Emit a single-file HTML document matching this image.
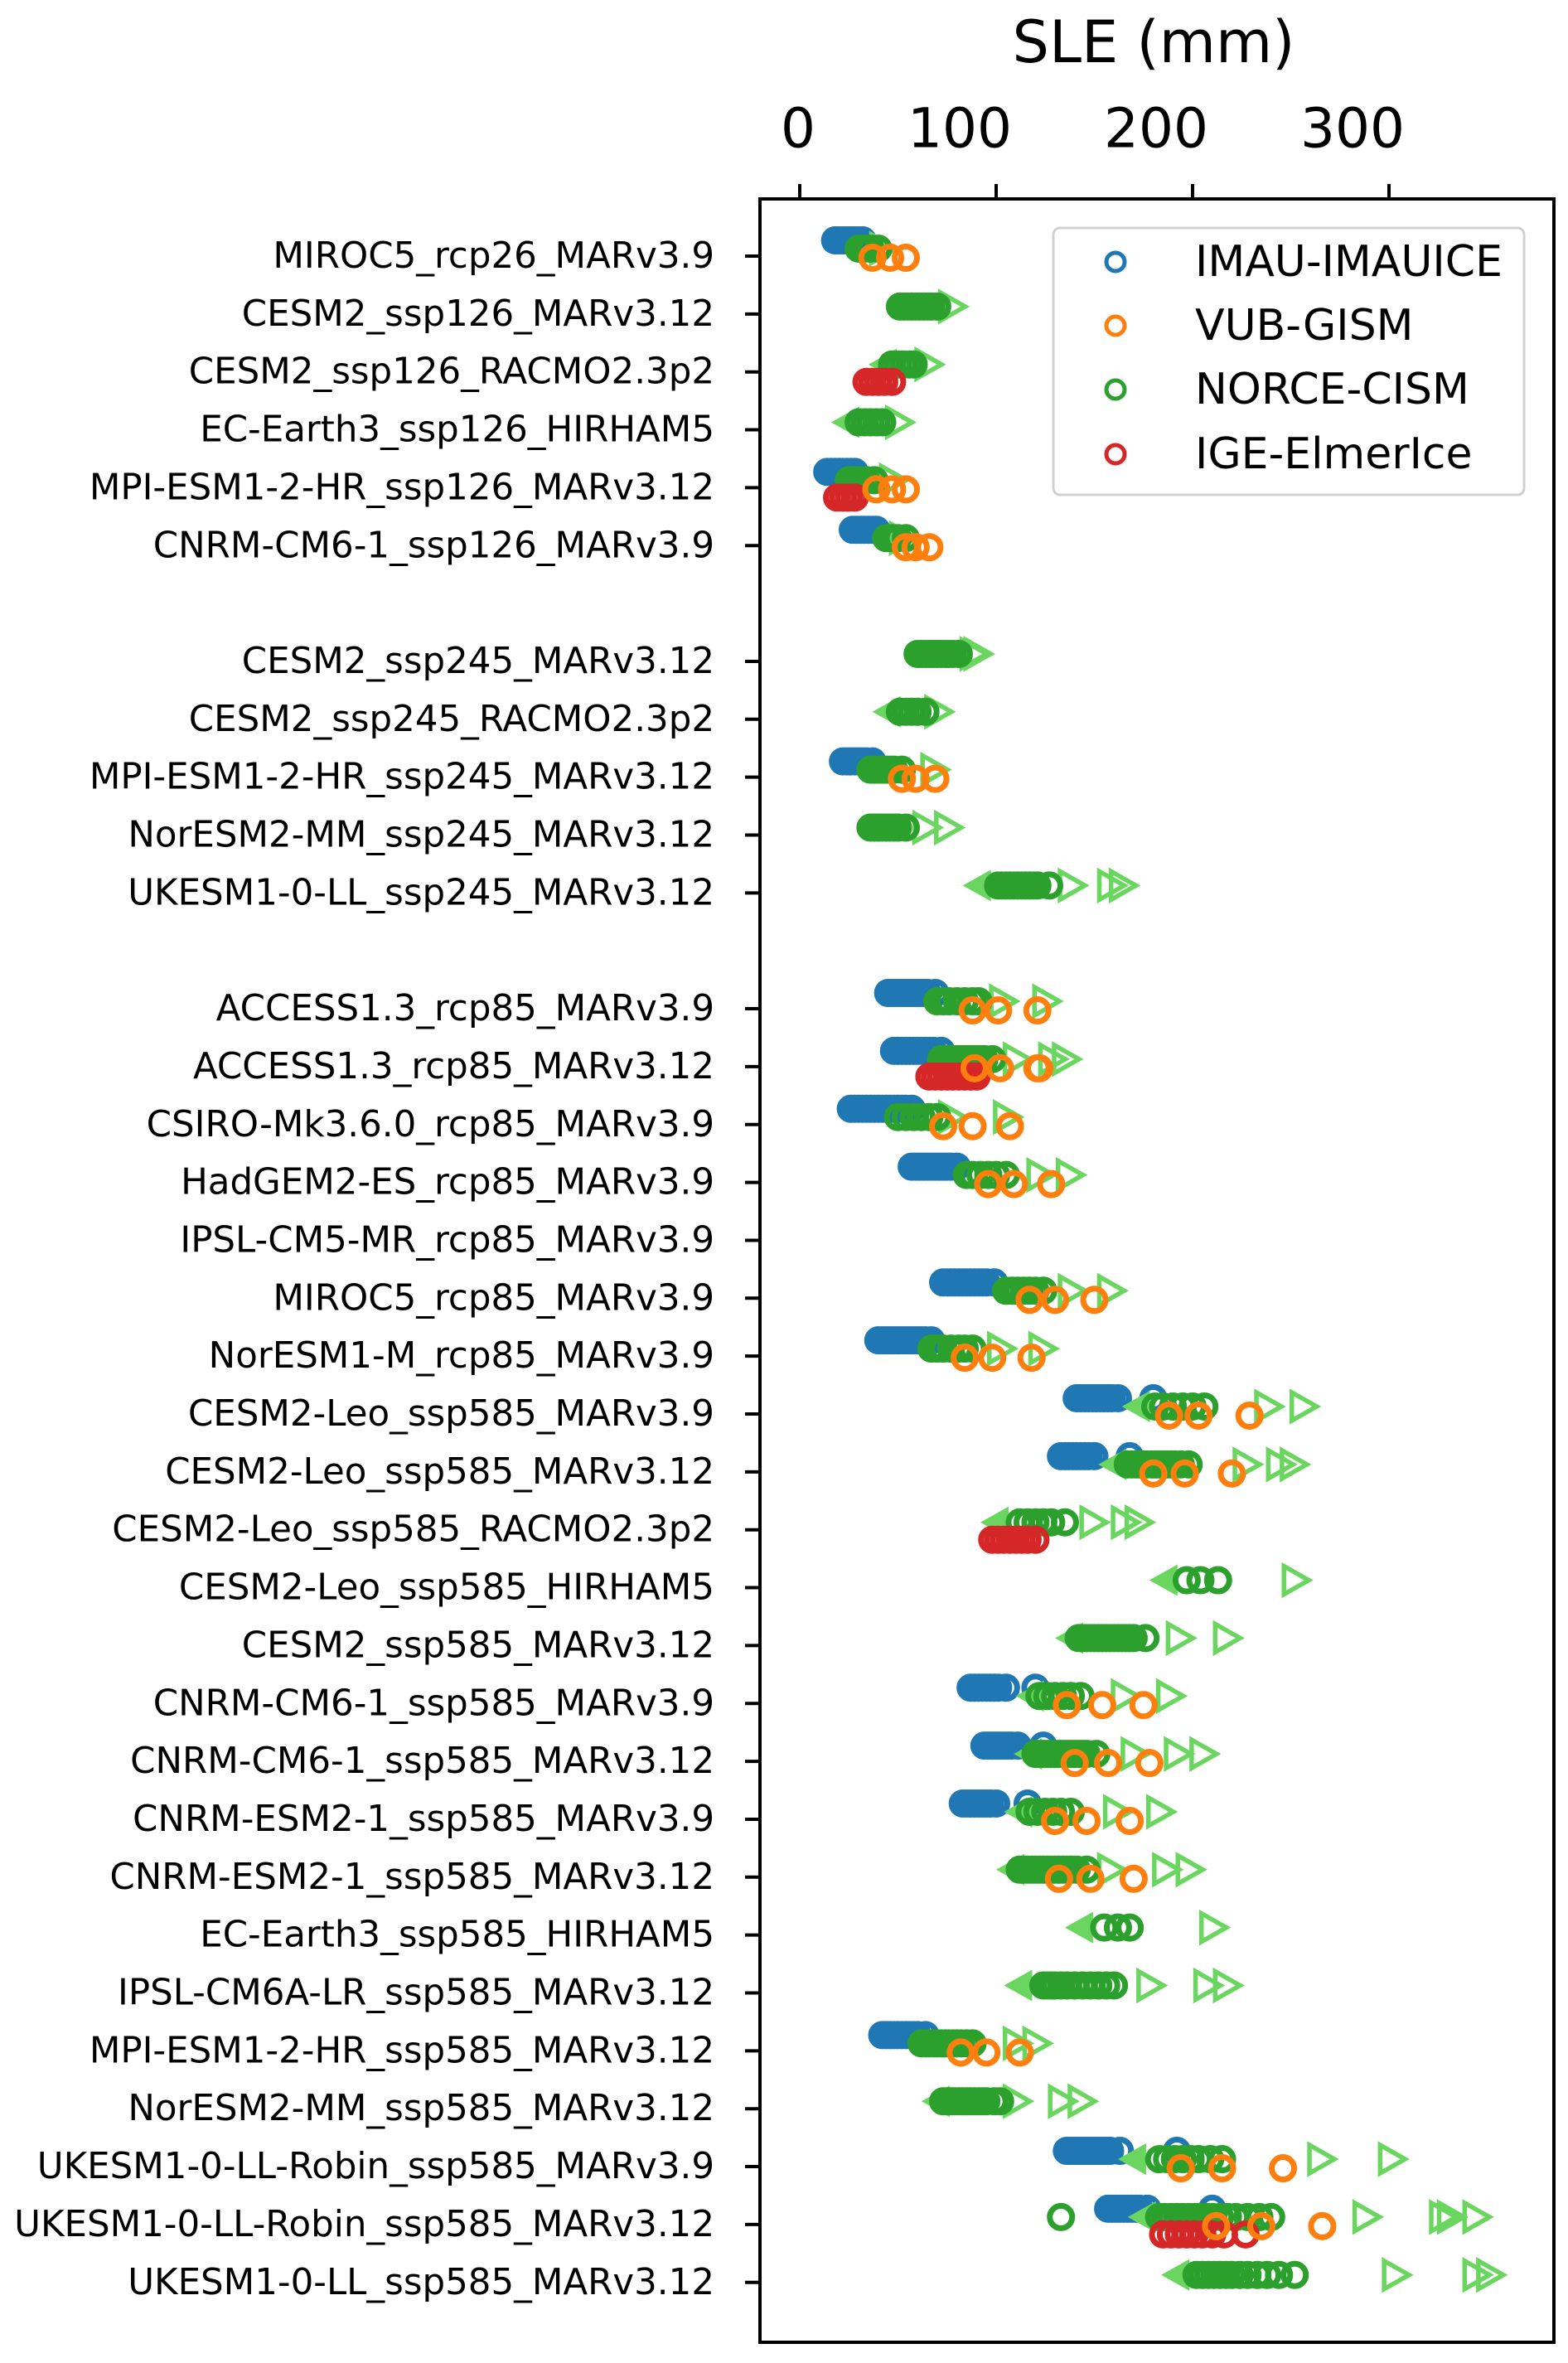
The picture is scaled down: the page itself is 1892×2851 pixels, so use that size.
<!DOCTYPE html>
<html><head><meta charset="utf-8"><style>
html,body{margin:0;padding:0;background:#fff;}
svg{display:block;font-family:"DejaVu Sans","Liberation Sans",sans-serif;}
</style></head><body>
<svg id="chart" width="1892" height="2851" viewBox="0 0 1892 2851" xmlns="http://www.w3.org/2000/svg">
<text x="1392" y="51" font-size="70" text-anchor="middle" dominant-baseline="central">SLE (mm)</text>
<g id="ticks"></g>
<g id="ylabels"></g>
<g id="marks"></g>
<rect x="917" y="240" width="958" height="2586" fill="none" stroke="#000" stroke-width="4"/>
<g>
<rect x="1271" y="275" width="568" height="322" rx="8" fill="#fff" fill-opacity="0.8" stroke="#d0d0d0" stroke-width="3"/>
<circle cx="1346" cy="316" r="11" fill="none" stroke="#1f77b4" stroke-width="5"/>
<text x="1442" y="316" font-size="52" dominant-baseline="central">IMAU-IMAUICE</text>
<circle cx="1346" cy="393" r="11" fill="none" stroke="#ff7f0e" stroke-width="5"/>
<text x="1442" y="393" font-size="52" dominant-baseline="central">VUB-GISM</text>
<circle cx="1346" cy="470" r="11" fill="none" stroke="#2ca02c" stroke-width="5"/>
<text x="1442" y="470" font-size="52" dominant-baseline="central">NORCE-CISM</text>
<circle cx="1346" cy="548" r="11" fill="none" stroke="#d62728" stroke-width="5"/>
<text x="1442" y="548" font-size="52" dominant-baseline="central">IGE-ElmerIce</text>
</g>
</svg>
<script>
const xTicks = [0, 100, 200, 300];
const rowLabels = ["MIROC5_rcp26_MARv3.9","CESM2_ssp126_MARv3.12","CESM2_ssp126_RACMO2.3p2","EC-Earth3_ssp126_HIRHAM5","MPI-ESM1-2-HR_ssp126_MARv3.12","CNRM-CM6-1_ssp126_MARv3.9","",
"CESM2_ssp245_MARv3.12","CESM2_ssp245_RACMO2.3p2","MPI-ESM1-2-HR_ssp245_MARv3.12","NorESM2-MM_ssp245_MARv3.12","UKESM1-0-LL_ssp245_MARv3.12","",
"ACCESS1.3_rcp85_MARv3.9","ACCESS1.3_rcp85_MARv3.12","CSIRO-Mk3.6.0_rcp85_MARv3.9","HadGEM2-ES_rcp85_MARv3.9","IPSL-CM5-MR_rcp85_MARv3.9","MIROC5_rcp85_MARv3.9","NorESM1-M_rcp85_MARv3.9",
"CESM2-Leo_ssp585_MARv3.9","CESM2-Leo_ssp585_MARv3.12","CESM2-Leo_ssp585_RACMO2.3p2","CESM2-Leo_ssp585_HIRHAM5","CESM2_ssp585_MARv3.12","CNRM-CM6-1_ssp585_MARv3.9","CNRM-CM6-1_ssp585_MARv3.12",
"CNRM-ESM2-1_ssp585_MARv3.9","CNRM-ESM2-1_ssp585_MARv3.12","EC-Earth3_ssp585_HIRHAM5","IPSL-CM6A-LR_ssp585_MARv3.12","MPI-ESM1-2-HR_ssp585_MARv3.12","NorESM2-MM_ssp585_MARv3.12",
"UKESM1-0-LL-Robin_ssp585_MARv3.9","UKESM1-0-LL-Robin_ssp585_MARv3.12","UKESM1-0-LL_ssp585_MARv3.12"];
// IMAU-IMAUICE values per row
const imau = {0:[18,20,22,24,26,28,30,32],4:[14,16,18,20,22,24,26,28],5:[27,29,31,33,35,37,39],
9:[22,24,26,28,30,32,34,37],13:[45,47,49,51,53,55,57,59,61,63,65,69],14:[48,50,52,54,56,58,60,62,64,66,68,72],
15:[26,28,30,32,34,36,38,40,42,44,46,48,50,52,54,57],16:[57,59,61,63,65,67,69,71,73,75,77,80],
18:[73,75,77,79,81,83,85,87,89,91,93,95,99],19:[40,42,44,46,48,50,52,54,56,58,60,62,64,67],
20:[141,143,145,147,149,151,153,155,157,159,162,180],21:[133,135,137,139,141,143,145,147,150,168],
25:[87,89,91,93,95,97,99,101,105,120],26:[94,96,98,100,102,104,106,108,111,124],27:[83,85,87,89,91,93,95,97,100,116],
31:[42,44,46,48,50,52,54,56,58,60,64],33:[136,138,140,142,144,146,148,150,152,154,156,158,163,192],
34:[157,159,161,163,165,167,169,171,173,177,210]};
// VUB-GISM values per row
const vub = {0:[37,46,54],4:[39,47,54],5:[54,59,66],9:[52,59,69],13:[88,101,121],14:[89,102,121,122],15:[73,88,107],
16:[96,109,128],18:[117,130,150],19:[84,98,118],20:[188,203,229],21:[180,196,220],25:[136,154,175],26:[140,157,178],
27:[130,146,168],28:[132,148,170],31:[82,95,112],33:[194,215,246],34:[212,235,266]};
// NORCE-CISM values per row
const norce = {0:[30,33,36,40],1:[51,53,55,57,59,61,63,65,67,70],2:[47,50,53,56,58],3:[30,33,36,39,42],4:[25,28,31,34,38],5:[44,47,50,54],
7:[60,62,64,66,68,70,72,74,76,78,81],8:[51,54,57,60,64],9:[36,38,40,42,44,46,48,52],10:[36,38,40,42,44,46,48,50,54],
11:[101,103,105,107,109,111,113,115,117,119,121,127],13:[70,73,76,80,84,88,91],14:[72,74,76,78,80,82,84,86,88,90,92,94,98],
15:[50,54,58,62,66,70],16:[85,88,92,96,100,105],18:[105,108,111,114,117,120,124],19:[67,70,73,77,81,84,88],
20:[181,185,190,195,200,206],21:[167,169,171,173,175,177,179,181,183,185,187,189,191,194,198],22:[112,116,120,124,128,135],
23:[197,204,213],24:[142,144,146,148,150,152,154,156,158,160,162,164,166,168,170,176],25:[122,126,130,134,138,143],
26:[120,122,124,126,128,130,132,134,136,138,140,142,144,146,151],27:[117,121,125,129,133,138],
28:[112,114,116,118,120,122,124,126,128,130,132,134,136,138,141,146],29:[155,162,168],30:[124,126,128,130,133,136,140,144,148,152,156,160],
31:[62,64,66,68,70,72,74,76,78,80,82,85,88],32:[73,75,77,79,81,83,85,87,89,91,93,95,99,102],
33:[183,187,191,195,199,203,209,215],34:[133,183,186,189,192,195,198,201,204,207,210,214,218,222,228,234,240],
35:[202,205,208,211,214,217,220,224,228,233,238,244,252]};
// NORCE-CISM bound markers: left- and right-pointing
const triLeft = {2:[43],3:[24],8:[45],11:[91],20:[172],21:[160],22:[100],23:[186],24:[138],25:[118],26:[117],27:[112],28:[108],29:[143],30:[112],32:[70],33:[170],34:[175],35:[192]};
const triRight = {0:[42],1:[77],2:[65],3:[50],4:[47],5:[52],7:[88,90],8:[70],9:[68],10:[64,75],11:[138,158,164],13:[103,125],14:[110,128,135],
15:[77,105],16:[122,137],18:[138,158],19:[102,123],20:[238,256],21:[227,244,251],22:[149,165,172],23:[252],24:[193,217],
25:[165,188],26:[170,192,205],27:[161,183],28:[158,186,198],29:[210],30:[178,207,217],31:[110,120],32:[110,133,143],
33:[265,301],34:[288,327,331,344],35:[303,344,351]};
// IGE-ElmerIce values per row
const ige = {2:[34,37,40,43,47],4:[19,22,25,28],14:[66,69,72,75,78,81,84,87,90],22:[98,101,104,107,110,113,116,120],34:[185,189,193,197,201,205,210,216,227]};

const NS = "http://www.w3.org/2000/svg";
const X0 = 965, PX = 2.37, Y0 = 309, DY = 69.85;
function xs(v){ return X0 + v*PX; }
function ys(i){ return Y0 + i*DY; }
const ticksG = document.getElementById('ticks');
const labG = document.getElementById('ylabels');
const marks = document.getElementById('marks');

xTicks.forEach(t => {
  const l = document.createElementNS(NS,'line');
  
  
  l.setAttribute('x1',xs(t)); l.setAttribute('x2',xs(t));
  l.setAttribute('y1',240); l.setAttribute('y2',222);
  l.setAttribute('stroke','#000'); l.setAttribute('stroke-width','4');
  ticksG.appendChild(l);
  const tx = document.createElementNS(NS,'text');
  
  
  tx.setAttribute('x',xs(t)+19); tx.setAttribute('y',155);
  tx.setAttribute('font-size','66'); tx.setAttribute('text-anchor','end');
  tx.setAttribute('dominant-baseline','central');
  tx.textContent = t;
  ticksG.appendChild(tx);
});

rowLabels.forEach((lab,i) => {
  if(!lab) return;
  const l = document.createElementNS(NS,'line');
  
  
  l.setAttribute('x1',917); l.setAttribute('x2',899);
  l.setAttribute('y1',ys(i)); l.setAttribute('y2',ys(i));
  l.setAttribute('stroke','#000'); l.setAttribute('stroke-width','4');
  labG.appendChild(l);
  const tx = document.createElementNS(NS,'text');
  
  
  tx.setAttribute('x',862); tx.setAttribute('y',ys(i));
  tx.setAttribute('font-size','43.5'); tx.setAttribute('text-anchor','end');
  tx.setAttribute('dominant-baseline','central');
  tx.textContent = lab;
  labG.appendChild(tx);
});

function circles(obj, color, off, name){
  Object.keys(obj).forEach(k => {
    obj[k].forEach(v => {
      const c = document.createElementNS(NS,'circle');
      
      
      c.setAttribute('cx', xs(v)); c.setAttribute('cy', ys(+k)+off);
      c.setAttribute('r', 13.5); c.setAttribute('fill','none');
      c.setAttribute('stroke', color); c.setAttribute('stroke-width','7');
      marks.appendChild(c);
    });
  });
}
function tris(obj, dir, name){
  Object.keys(obj).forEach(k => {
    obj[k].forEach(v => {
      const x = xs(v), y = ys(+k)-9;
      const p = document.createElementNS(NS,'polygon');
      
      
      if(dir>0){
        p.setAttribute('points', `${x-13},${y-17} ${x+17},${y} ${x-13},${y+17}`);
        p.setAttribute('fill','none');
        p.setAttribute('stroke','#6ad660'); p.setAttribute('stroke-width','5.5');
      } else {
        p.setAttribute('points', `${x+15},${y-19} ${x-19},${y} ${x+15},${y+19}`);
        p.setAttribute('fill','#6ad660');
      }
      marks.appendChild(p);
    });
  });
}
circles(imau, '#1f77b4', -19, 'imau-marker');
tris(triLeft, -1, 'norce-lower-bound');
tris(triRight, 1, 'norce-upper-bound');
circles(norce, '#2ca02c', -9, 'norce-marker');
circles(ige, '#d62728', 12, 'ige-marker');
circles(vub, '#ff7f0e', 2, 'vub-marker');
</script>
</body></html>
